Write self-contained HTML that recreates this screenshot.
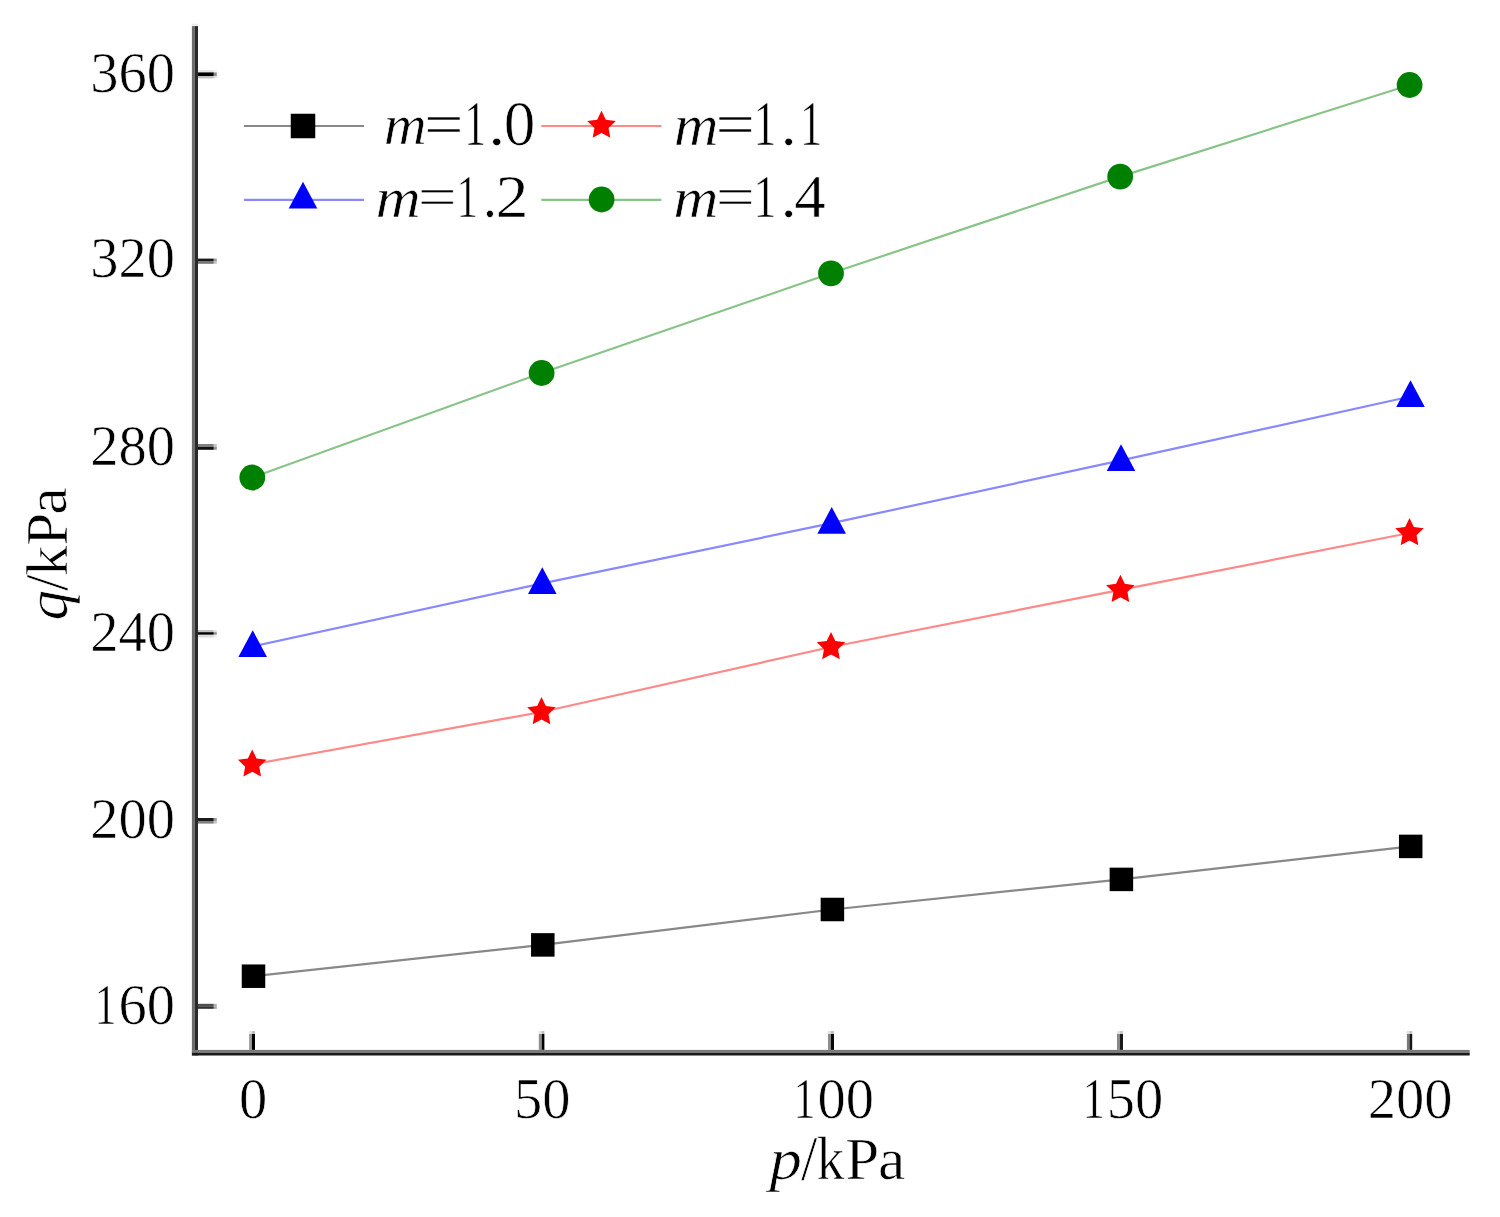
<!DOCTYPE html><html><head><meta charset="utf-8"><style>html,body{margin:0;padding:0;background:#fff;}svg{display:block;}text{font-family:"Liberation Serif",serif;fill:#000;stroke:#fff;stroke-width:0.65px;}</style></head><body>
<svg width="1500" height="1217" viewBox="0 0 1500 1217">
<rect width="1500" height="1217" fill="#fff"/>
<polyline points="253.50,976.20 542.80,944.90 832.40,909.50 1121.40,879.40 1410.70,846.40" fill="none" stroke="#888" stroke-width="2.2"/>
<polyline points="252.20,764.40 541.50,712.00 831.00,647.00 1120.40,589.80 1409.50,533.00" fill="none" stroke="#ff8888" stroke-width="2.2"/>
<polyline points="252.70,646.40 542.30,583.40 831.70,523.20 1121.00,460.40 1410.50,396.50" fill="none" stroke="#8888ff" stroke-width="2.2"/>
<polyline points="252.30,477.50 541.60,373.00 831.00,273.30 1120.20,176.60 1409.60,85.00" fill="none" stroke="#88c488" stroke-width="2.2"/>
<rect x="241.75" y="964.45" width="23.5" height="23.5" fill="#000"/>
<rect x="531.05" y="933.15" width="23.5" height="23.5" fill="#000"/>
<rect x="820.65" y="897.75" width="23.5" height="23.5" fill="#000"/>
<rect x="1109.65" y="867.65" width="23.5" height="23.5" fill="#000"/>
<rect x="1398.95" y="834.65" width="23.5" height="23.5" fill="#000"/>
<polygon points="252.20,749.40 256.55,758.41 266.47,759.76 259.24,766.69 261.02,776.54 252.20,771.80 243.38,776.54 245.16,766.69 237.93,759.76 247.85,758.41" fill="#f00"/>
<polygon points="541.50,697.00 545.85,706.01 555.77,707.36 548.54,714.29 550.32,724.14 541.50,719.40 532.68,724.14 534.46,714.29 527.23,707.36 537.15,706.01" fill="#f00"/>
<polygon points="831.00,632.00 835.35,641.01 845.27,642.36 838.04,649.29 839.82,659.14 831.00,654.40 822.18,659.14 823.96,649.29 816.73,642.36 826.65,641.01" fill="#f00"/>
<polygon points="1120.40,574.80 1124.75,583.81 1134.67,585.16 1127.44,592.09 1129.22,601.94 1120.40,597.20 1111.58,601.94 1113.36,592.09 1106.13,585.16 1116.05,583.81" fill="#f00"/>
<polygon points="1409.50,518.00 1413.85,527.01 1423.77,528.36 1416.54,535.29 1418.32,545.14 1409.50,540.40 1400.68,545.14 1402.46,535.29 1395.23,528.36 1405.15,527.01" fill="#f00"/>
<polygon points="252.70,630.20 267.00,656.90 238.40,656.90" fill="#00f"/>
<polygon points="542.30,567.20 556.60,593.90 528.00,593.90" fill="#00f"/>
<polygon points="831.70,507.00 846.00,533.70 817.40,533.70" fill="#00f"/>
<polygon points="1121.00,444.20 1135.30,470.90 1106.70,470.90" fill="#00f"/>
<polygon points="1410.50,380.30 1424.80,407.00 1396.20,407.00" fill="#00f"/>
<circle cx="252.30" cy="477.50" r="12.9" fill="#008000"/>
<circle cx="541.60" cy="373.00" r="12.9" fill="#008000"/>
<circle cx="831.00" cy="273.30" r="12.9" fill="#008000"/>
<circle cx="1120.20" cy="176.60" r="12.9" fill="#008000"/>
<circle cx="1409.60" cy="85.00" r="12.9" fill="#008000"/>
<rect x="191.90" y="23.80" width="6.10" height="2.30" fill="#ececec"/>
<rect x="191.90" y="26.10" width="3.00" height="1029.40" fill="#6e6e6e"/>
<rect x="194.90" y="26.10" width="3.10" height="1029.40" fill="#2a2a2a"/>
<rect x="198.00" y="70.00" width="15.80" height="2.40" fill="#e8e8e8"/>
<rect x="213.80" y="70.00" width="3.00" height="2.40" fill="#f5f5f5"/>
<rect x="198.00" y="72.40" width="15.80" height="3.60" fill="#000000"/>
<rect x="213.80" y="72.40" width="3.00" height="3.60" fill="#8c8c8c"/>
<rect x="198.00" y="76.00" width="15.80" height="2.40" fill="#c0c0c0"/>
<rect x="213.80" y="76.00" width="3.00" height="2.40" fill="#e3e3e3"/>
<rect x="198.00" y="258.60" width="15.80" height="2.40" fill="#1a1a1a"/>
<rect x="213.80" y="258.60" width="3.00" height="2.40" fill="#989898"/>
<rect x="198.00" y="261.00" width="15.80" height="2.80" fill="#777777"/>
<rect x="213.80" y="261.00" width="3.00" height="2.80" fill="#c2c2c2"/>
<rect x="198.00" y="444.00" width="15.80" height="2.80" fill="#808080"/>
<rect x="213.80" y="444.00" width="3.00" height="2.80" fill="#c6c6c6"/>
<rect x="198.00" y="446.80" width="15.80" height="3.00" fill="#101010"/>
<rect x="213.80" y="446.80" width="3.00" height="3.00" fill="#939393"/>
<rect x="198.00" y="630.00" width="15.80" height="2.20" fill="#c0c0c0"/>
<rect x="213.80" y="630.00" width="3.00" height="2.20" fill="#e3e3e3"/>
<rect x="198.00" y="632.20" width="15.80" height="2.60" fill="#000000"/>
<rect x="213.80" y="632.20" width="3.00" height="2.60" fill="#8c8c8c"/>
<rect x="198.00" y="634.80" width="15.80" height="2.80" fill="#dcdcdc"/>
<rect x="213.80" y="634.80" width="3.00" height="2.80" fill="#efefef"/>
<rect x="198.00" y="818.00" width="15.80" height="3.00" fill="#1c1c1c"/>
<rect x="213.80" y="818.00" width="3.00" height="3.00" fill="#999999"/>
<rect x="198.00" y="821.00" width="15.80" height="2.60" fill="#808080"/>
<rect x="213.80" y="821.00" width="3.00" height="2.60" fill="#c6c6c6"/>
<rect x="198.00" y="1003.80" width="15.80" height="2.50" fill="#505050"/>
<rect x="213.80" y="1003.80" width="3.00" height="2.50" fill="#b0b0b0"/>
<rect x="198.00" y="1006.30" width="15.80" height="2.50" fill="#303030"/>
<rect x="213.80" y="1006.30" width="3.00" height="2.50" fill="#a2a2a2"/>
<rect x="249.10" y="1034.00" width="2.80" height="15.90" fill="#9a9a9a"/>
<rect x="249.10" y="1031.00" width="2.80" height="3.00" fill="#e6e6e6"/>
<rect x="251.90" y="1034.00" width="3.10" height="15.90" fill="#000000"/>
<rect x="251.90" y="1031.00" width="3.10" height="3.00" fill="#bfbfbf"/>
<rect x="538.80" y="1034.00" width="2.90" height="15.90" fill="#8c8c8c"/>
<rect x="538.80" y="1031.00" width="2.90" height="3.00" fill="#e2e2e2"/>
<rect x="541.70" y="1034.00" width="2.70" height="15.90" fill="#000000"/>
<rect x="541.70" y="1031.00" width="2.70" height="3.00" fill="#bfbfbf"/>
<rect x="828.00" y="1034.00" width="2.90" height="15.90" fill="#8c8c8c"/>
<rect x="828.00" y="1031.00" width="2.90" height="3.00" fill="#e2e2e2"/>
<rect x="830.90" y="1034.00" width="3.10" height="15.90" fill="#080808"/>
<rect x="830.90" y="1031.00" width="3.10" height="3.00" fill="#c1c1c1"/>
<rect x="1117.00" y="1034.00" width="2.90" height="15.90" fill="#888888"/>
<rect x="1117.00" y="1031.00" width="2.90" height="3.00" fill="#e1e1e1"/>
<rect x="1119.90" y="1034.00" width="3.10" height="15.90" fill="#1a1a1a"/>
<rect x="1119.90" y="1031.00" width="3.10" height="3.00" fill="#c6c6c6"/>
<rect x="1406.90" y="1034.00" width="2.60" height="15.90" fill="#7a7a7a"/>
<rect x="1406.90" y="1031.00" width="2.60" height="3.00" fill="#dedede"/>
<rect x="1409.50" y="1034.00" width="2.70" height="15.90" fill="#151515"/>
<rect x="1409.50" y="1031.00" width="2.70" height="3.00" fill="#c4c4c4"/>
<rect x="191.90" y="1049.90" width="1277.80" height="3.00" fill="#7a7a7a"/>
<rect x="191.90" y="1052.90" width="1277.80" height="2.60" fill="#1a1a1a"/>
<text x="90.25" y="91.90" font-size="56.5">3</text>
<text x="118.50" y="91.90" font-size="56.5">6</text>
<text x="146.75" y="91.90" font-size="56.5">0</text>
<text x="90.25" y="277.30" font-size="56.5">3</text>
<text x="118.50" y="277.30" font-size="56.5">2</text>
<text x="146.75" y="277.30" font-size="56.5">0</text>
<text x="90.25" y="465.00" font-size="56.5">2</text>
<text x="118.50" y="465.00" font-size="56.5">8</text>
<text x="146.75" y="465.00" font-size="56.5">0</text>
<text x="90.25" y="650.60" font-size="56.5">2</text>
<text x="118.50" y="650.60" font-size="56.5">4</text>
<text x="146.75" y="650.60" font-size="56.5">0</text>
<text x="90.25" y="837.50" font-size="56.5">2</text>
<text x="118.50" y="837.50" font-size="56.5">0</text>
<text x="146.75" y="837.50" font-size="56.5">0</text>
<text transform="translate(106.16,1024.40) scale(0.78,1)" x="-14.91" y="0" font-size="56.5">1</text>
<text x="118.50" y="1024.40" font-size="56.5">6</text>
<text x="146.75" y="1024.40" font-size="56.5">0</text>
<text x="238.88" y="1117.90" font-size="56.5">0</text>
<text x="514.05" y="1117.90" font-size="56.5">5</text>
<text x="542.30" y="1117.90" font-size="56.5">0</text>
<text transform="translate(805.24,1117.90) scale(0.78,1)" x="-14.91" y="0" font-size="56.5">1</text>
<text x="817.58" y="1117.90" font-size="56.5">0</text>
<text x="845.83" y="1117.90" font-size="56.5">0</text>
<text transform="translate(1094.44,1117.90) scale(0.78,1)" x="-14.91" y="0" font-size="56.5">1</text>
<text x="1106.78" y="1117.90" font-size="56.5">5</text>
<text x="1135.03" y="1117.90" font-size="56.5">0</text>
<text x="1367.83" y="1117.90" font-size="56.5">2</text>
<text x="1396.08" y="1117.90" font-size="56.5">0</text>
<text x="1424.33" y="1117.90" font-size="56.5">0</text>
<text transform="translate(769.40,1179.01) scale(1.1098,0.9945)" font-size="58.5" font-style="italic">p</text>
<text transform="translate(801.10,1179.78) scale(1.0029,1.0937)" font-size="58.5">/</text>
<text transform="translate(816.54,1179.40) scale(0.9525,1.0298)" font-size="58.5">k</text>
<text transform="translate(845.34,1179.40) scale(1.0453,1.0260)" font-size="58.5">P</text>
<text transform="translate(877.94,1179.12) scale(1.0516,1.0206)" font-size="58.5">a</text>
<g transform="rotate(-90)">
<text transform="translate(-620.62,67.28) scale(1.0410,0.9970)" font-size="58.5" font-style="italic">q</text>
<text transform="translate(-590.90,66.80) scale(1.0152,1.0503)" font-size="58.5">/</text>
<text transform="translate(-575.96,66.70) scale(1.0449,0.9953)" font-size="58.5">k</text>
<text transform="translate(-545.70,66.70) scale(1.0103,1.0234)" font-size="58.5">P</text>
<text transform="translate(-514.78,66.35) scale(1.0602,0.9671)" font-size="58.5">a</text>
</g>
<line x1="243.9" y1="126.0" x2="364.0" y2="126.0" stroke="#888" stroke-width="2.2"/>
<rect x="290.75" y="113.75" width="24.5" height="24.5" fill="#000"/>
<line x1="541.3" y1="126.0" x2="661.4" y2="126.0" stroke="#ff8888" stroke-width="2.2"/>
<polygon points="601.50,110.70 605.85,119.71 615.77,121.06 608.54,127.99 610.32,137.84 601.50,133.10 592.68,137.84 594.46,127.99 587.23,121.06 597.15,119.71" fill="#f00"/>
<line x1="243.9" y1="199.9" x2="364.0" y2="199.9" stroke="#8888ff" stroke-width="2.2"/>
<polygon points="303.00,181.70 317.30,208.40 288.70,208.40" fill="#00f"/>
<line x1="541.3" y1="199.9" x2="661.4" y2="199.9" stroke="#88c488" stroke-width="2.2"/>
<circle cx="601.6" cy="199.5" r="12.9" fill="#008000"/>
<text transform="translate(383.85,144.20) scale(0.9439,0.9095)" font-size="63" font-style="italic">m</text>
<text transform="translate(423.91,144.80) scale(1.1120,0.9587)" font-size="63">=</text>
<text transform="translate(464.28,144.70) scale(0.6898,0.9978)" font-size="63">1</text>
<text transform="translate(487.97,144.53) scale(1.1149,0.9806)" font-size="63">.</text>
<text transform="translate(503.79,145.28) scale(1.0037,1.0068)" font-size="63">0</text>
<text transform="translate(673.66,144.80) scale(0.9858,0.9500)" font-size="63" font-style="italic">m</text>
<text transform="translate(715.51,144.80) scale(1.1120,0.9587)" font-size="63">=</text>
<text transform="translate(753.46,144.80) scale(0.7304,0.9906)" font-size="63">1</text>
<text transform="translate(780.40,144.53) scale(1.0343,0.9806)" font-size="63">.</text>
<text transform="translate(800.08,144.80) scale(0.7079,0.9906)" font-size="63">1</text>
<text transform="translate(375.53,217.20) scale(0.9957,0.9095)" font-size="63" font-style="italic">m</text>
<text transform="translate(417.76,215.79) scale(1.0950,0.8889)" font-size="63">=</text>
<text transform="translate(456.53,217.20) scale(0.6808,0.9618)" font-size="63">1</text>
<text transform="translate(482.81,216.93) scale(0.9134,0.9806)" font-size="63">.</text>
<text transform="translate(495.40,217.20) scale(1.0493,0.9733)" font-size="63">2</text>
<text transform="translate(673.23,217.20) scale(0.9957,0.9095)" font-size="63" font-style="italic">m</text>
<text transform="translate(715.84,215.79) scale(1.1018,0.8889)" font-size="63">=</text>
<text transform="translate(753.46,217.20) scale(0.7304,0.9618)" font-size="63">1</text>
<text transform="translate(780.40,216.93) scale(1.0343,0.9806)" font-size="63">.</text>
<text transform="translate(794.27,217.20) scale(1.0005,0.9791)" font-size="63">4</text>
</svg></body></html>
